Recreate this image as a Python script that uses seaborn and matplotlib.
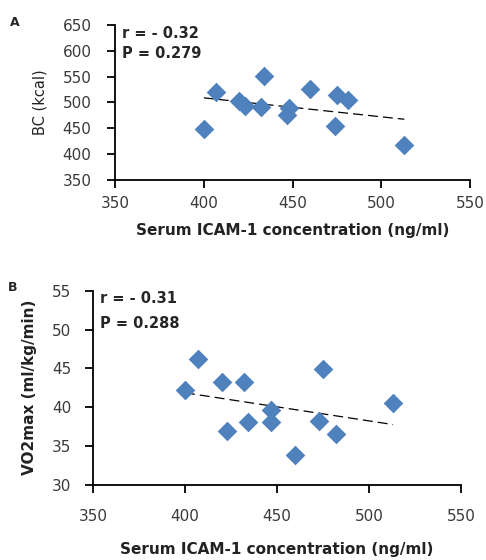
import numpy as np
import pandas as pd
import matplotlib
matplotlib.use("Agg")
import matplotlib.pyplot as plt
import seaborn as sns

# serum ICAM-1 (ng/ml), same subjects in both panels
icam = [400, 407, 420, 423, 432, 434, 447, 448, 460, 474, 475, 481, 513]
bc_kcal = [448, 521, 503, 493, 492, 552, 476, 490, 526, 454, 514, 505, 417]
icam_b = [400, 407, 420, 423, 432, 434, 447, 447, 460, 473, 475, 482, 513]
vo2max = [42.2, 46.2, 43.3, 37.0, 43.2, 38.1, 39.7, 38.1, 33.9, 38.2, 44.9, 36.6, 40.6]

x_ticks = [350, 400, 450, 500, 550]
bc_ticks = [350, 400, 450, 500, 550, 600, 650]
vo2_ticks = [30, 35, 40, 45, 50, 55]

sns.set_style("white")
plt.rcParams['font.family'] = ['DejaVu Sans']

blue = "#4F81BD"
fig = plt.figure(figsize=(4.86, 5.6), dpi=100)
ax_a = fig.add_axes([0.237, 0.679, 0.730, 0.276])
ax_b = fig.add_axes([0.191, 0.134, 0.758, 0.347])

df_a = pd.DataFrame({"icam": icam, "val": bc_kcal})
df_b = pd.DataFrame({"icam": icam_b, "val": vo2max})


def draw_panel(ax, df, yticks, ylabel, ylabel_weight, ylab_size, stats, stats_y,
               stats_ls, xpad, ypad, xlabpad, letter, letter_xy):
    sns.regplot(data=df, x="icam", y="val", ax=ax, scatter=False, ci=None,
                line_kws=dict(color="black", lw=0.9, dashes=(8, 4)))
    sns.scatterplot(data=df, x="icam", y="val", ax=ax, marker="D", s=100,
                    color=blue, edgecolor=blue, linewidth=0, zorder=3)
    ax.set_xlim(x_ticks[0], x_ticks[-1])
    ax.set_ylim(yticks[0], yticks[-1])
    ax.set_xticks(x_ticks)
    ax.set_yticks(yticks)
    for s in ["top", "right"]:
        ax.spines[s].set_visible(False)
    for s in ["left", "bottom"]:
        ax.spines[s].set_color("black")
        ax.spines[s].set_linewidth(1.3)
    ax.tick_params(axis="both", direction="out", length=6, width=1.3,
                   color="black", labelsize=11, labelcolor="#3a3a3a",
                   bottom=True, left=True)
    ax.tick_params(axis="x", pad=xpad)
    ax.tick_params(axis="y", pad=ypad)
    ax.set_xlabel("Serum ICAM-1 concentration (ng/ml)", fontsize=11,
                  fontweight="bold", color="#222222", labelpad=xlabpad)
    ax.set_ylabel(ylabel, fontsize=ylab_size, fontweight=ylabel_weight,
                  color="#222222", labelpad=11)
    ax.text(0.02, stats_y, stats, transform=ax.transAxes, fontsize=10.5,
            fontweight="bold", va="top", ha="left", linespacing=stats_ls)
    fig.text(letter_xy[0], letter_xy[1], letter, fontsize=9, fontweight="bold",
             va="center", ha="center")


draw_panel(ax_a, df_a, bc_ticks, "BC (kcal)", "normal", 10.5,
           "r = - 0.32\nP = 0.279", 0.995, 1.45, 5.5, 11, 9,
           "A", (0.03, 0.96))
draw_panel(ax_b, df_b, vo2_ticks, "VO2max (ml/kg/min)", "bold", 11,
           "r = - 0.31\nP = 0.288", 1.0, 1.9, 11, 9.5, 13.5,
           "B", (0.025, 0.487))

fig.savefig("out.png", dpi=100)
